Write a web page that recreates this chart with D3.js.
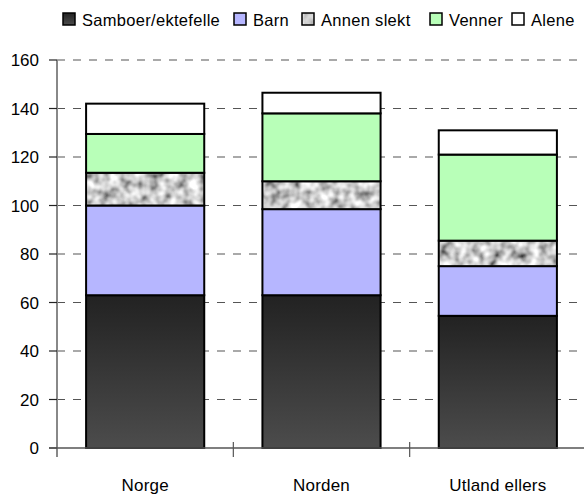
<!DOCTYPE html>
<html>
<head>
<meta charset="utf-8">
<script src="https://cdn.jsdelivr.net/npm/d3@7"></script>
<style>
  body { margin: 0; background: #fff; }
  svg { display: block; font-family: "Liberation Sans", Arial, sans-serif; }
</style>
</head>
<body>
<svg id="chart" width="584" height="494"></svg>
<script>
// data
const categories = ["Norge", "Norden", "Utland ellers"];
const seriesNames = ["Samboer/ektefelle", "Barn", "Annen slekt", "Venner", "Alene"];
const samboer = [63, 63, 54.5];
const barn = [37, 35.5, 20.5];
const annenSlekt = [13.5, 11.5, 10.5];
const venner = [16, 28, 35.5];
const alene = [12.5, 8.5, 10];
const yTicks = [0, 20, 40, 60, 80, 100, 120, 140, 160];

const seriesValues = [samboer, barn, annenSlekt, venner, alene];
const rows = categories.map((c, i) => {
    const r = { cat: c };
    seriesNames.forEach((s, j) => r[s] = seriesValues[j][i]);
    return r;
});

const svg = d3.select("#chart");
const W = 584, H = 494;
const axisX = 57, plotTop = 60, plotBottom = 448;

const y = d3.scaleLinear().domain([0, 160]).range([plotBottom, plotTop]);
const x = d3.scaleBand().domain(categories).range([axisX, 586])
    .paddingInner(0.33).paddingOuter(0.165);

// defs: gradient for samboer, noise for annen slekt
const defs = svg.append("defs");
const grad = defs.append("linearGradient").attr("id", "darkGrad")
    .attr("x1", 0).attr("y1", 0).attr("x2", 0).attr("y2", 1);
grad.append("stop").attr("offset", "0%").attr("stop-color", "#222");
grad.append("stop").attr("offset", "100%").attr("stop-color", "#4c4c4c");

const noise = defs.append("filter").attr("id", "marble")
    .attr("x", 0).attr("y", 0).attr("width", 1).attr("height", 1);
noise.append("feTurbulence").attr("type", "fractalNoise")
    .attr("baseFrequency", 0.1).attr("numOctaves", 2).attr("seed", 4);
noise.append("feColorMatrix").attr("type", "matrix")
    .attr("values", "1.6 0 0 0 -0.2  1.6 0 0 0 -0.2  1.6 0 0 0 -0.2  0 0 0 0 1");

const fills = {
    "Samboer/ektefelle": "url(#darkGrad)",
    "Barn": "#b6b6ff",
    "Annen slekt": "#999",
    "Venner": "#b8ffb8",
    "Alene": "#fff"
};

// gridlines
const grid = svg.append("g");
yTicks.filter(t => t > 0).forEach(t => {
    grid.append("line")
        .attr("x1", axisX).attr("x2", W)
        .attr("y1", y(t)).attr("y2", y(t))
        .attr("stroke", "#555").attr("stroke-width", 1.2)
        .attr("stroke-dasharray", "8,8");
});

// bars
const stack = d3.stack().keys(seriesNames)(rows);
const bars = svg.append("g");
stack.forEach(layer => {
    const key = layer.key;
    layer.forEach(d => {
        const rx = x(d.data.cat), rw = x.bandwidth();
        const ry = y(d[1]), rh = y(d[0]) - y(d[1]);
        if (key === "Annen slekt") {
            bars.append("rect")
                .attr("x", rx).attr("y", ry).attr("width", rw).attr("height", rh)
                .attr("filter", "url(#marble)");
            bars.append("rect")
                .attr("x", rx).attr("y", ry).attr("width", rw).attr("height", rh)
                .attr("fill", "none").attr("stroke", "#000").attr("stroke-width", 2);
        } else {
            bars.append("rect")
                .attr("x", rx).attr("y", ry).attr("width", rw).attr("height", rh)
                .attr("fill", fills[key]).attr("stroke", "#000").attr("stroke-width", 2);
        }
    });
});

// y axis
const yAxis = svg.append("g");
yAxis.append("line")
    .attr("x1", axisX).attr("x2", axisX).attr("y1", plotTop).attr("y2", plotBottom + 9)
    .attr("stroke", "#888").attr("stroke-width", 2);
yTicks.forEach(t => {
    yAxis.append("line")
        .attr("x1", 49).attr("x2", axisX).attr("y1", y(t)).attr("y2", y(t))
        .attr("stroke", "#222").attr("stroke-width", 1.2);
    yAxis.append("text")
        .attr("x", 39).attr("y", y(t) + 6)
        .attr("text-anchor", "end").attr("font-size", 17)
        .attr("fill", "#000").text(t);
});

// x axis baseline and category ticks
const xAxis = svg.append("g");
xAxis.append("line")
    .attr("x1", 49).attr("x2", W).attr("y1", plotBottom).attr("y2", plotBottom)
    .attr("stroke", "#555").attr("stroke-width", 1.5);
categories.slice(1).forEach(c => {
    const bx = x(c) - x.step() * x.paddingInner() / 2;
    xAxis.append("line")
        .attr("x1", bx).attr("x2", bx).attr("y1", plotBottom - 6).attr("y2", plotBottom + 9)
        .attr("stroke", "#555").attr("stroke-width", 1.2);
});
categories.forEach(c => {
    xAxis.append("text")
        .attr("x", x(c) + x.bandwidth() / 2).attr("y", 491)
        .attr("text-anchor", "middle").attr("font-size", 17)
        .attr("letter-spacing", 0.2).text(c);
});

// legend
const legendX = [63, 234, 302, 430, 512];
const legend = svg.append("g");
seriesNames.forEach((s, i) => {
    const lx = legendX[i];
    if (s === "Annen slekt") {
        legend.append("rect").attr("x", lx).attr("y", 13).attr("width", 12).attr("height", 12)
            .attr("filter", "url(#marble)");
        legend.append("rect").attr("x", lx).attr("y", 13).attr("width", 12).attr("height", 12)
            .attr("fill", "none").attr("stroke", "#000").attr("stroke-width", 1.5);
    } else {
        legend.append("rect").attr("x", lx).attr("y", 13).attr("width", 12).attr("height", 12)
            .attr("fill", fills[s]).attr("stroke", "#000").attr("stroke-width", 1.5);
    }
    legend.append("text")
        .attr("x", lx + 19).attr("y", 26)
        .attr("font-size", 16.5).attr("letter-spacing", 0.3).text(s);
});
</script>
</body>
</html>
